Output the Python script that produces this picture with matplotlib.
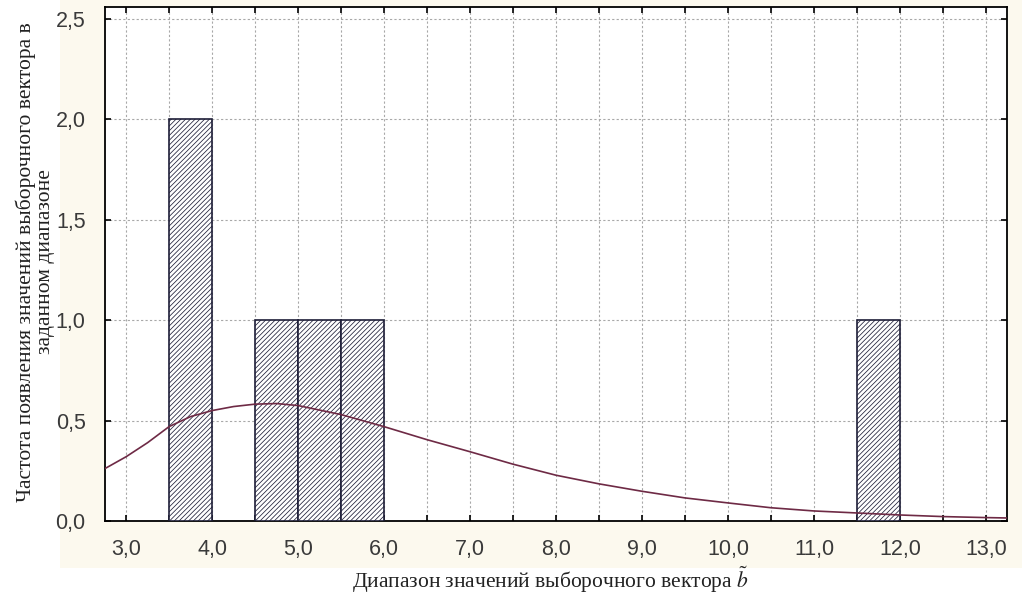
import matplotlib
matplotlib.use("Agg")
import matplotlib.pyplot as plt
import matplotlib.patches as mpatches
from matplotlib.ticker import MultipleLocator, FuncFormatter

# histogram bins (left edge) and counts
bin_left = [3.5, 4.5, 5.0, 5.5, 11.5]
bin_count = [2, 1, 1, 1, 1]
bin_width = 0.5

# fitted curve
curve_x = [2.75, 3.0, 3.25, 3.5, 3.75, 4.0, 4.25, 4.5, 4.75, 5.0, 5.5, 6.0, 6.5,
           7.0, 7.5, 8.0, 8.5, 9.0, 9.5, 10.0, 10.5, 11.0, 11.5, 12.0, 12.5,
           13.0, 13.25]
curve_y = [0.26, 0.32, 0.39, 0.47, 0.52, 0.55, 0.57, 0.582, 0.585, 0.575, 0.53,
           0.47, 0.405, 0.345, 0.283, 0.228, 0.185, 0.148, 0.115, 0.09, 0.066,
           0.05, 0.04, 0.03, 0.022, 0.017, 0.015]

x_label = "Диапазон значений выборочного вектора $\\tilde{b}$"
y_label = "Частота появления значений выборочного вектора в\nзаданном диапазоне"

W, H = 1022, 596
plt.rcParams['mathtext.fontset'] = 'stix'
plt.rcParams['hatch.linewidth'] = 0.55

fig = plt.figure(figsize=(W / 100, H / 100), dpi=100, facecolor='white')

# cream tinted area behind the chart
fig.patches.append(mpatches.Rectangle((60 / W, 1 - 568 / H), 962 / W, 568 / H,
                                      transform=fig.transFigure,
                                      facecolor='#fcf9ee', edgecolor='none', zorder=-5))

ax = fig.add_axes([105 / W, 1 - 521 / H, 902 / W, 514 / H])
ax.set_facecolor('white')

ax.bar(bin_left, bin_count, width=bin_width, align='edge', facecolor='white',
       edgecolor='#1e1e38', linewidth=1.2, hatch='///////', zorder=3)
ax.plot(curve_x, curve_y, color='#6e2a45', linewidth=1.2, zorder=4)

ax.set_xlim(2.755, 13.245)
ax.set_ylim(0, 2.56)

ax.xaxis.set_major_locator(MultipleLocator(0.5))
ax.yaxis.set_major_locator(MultipleLocator(0.5))
ax.xaxis.set_major_formatter(FuncFormatter(
    lambda v, p: (f"{v:.1f}".replace('.', ',') if abs(v - round(v)) < 1e-6 else "")))
ax.yaxis.set_major_formatter(FuncFormatter(lambda v, p: f"{v:.1f}".replace('.', ',')))

ax.grid(True, color='#a8a8a8', linestyle=(0, (2, 2)), linewidth=0.8, zorder=1)
ax.set_axisbelow(True)

ax.tick_params(direction='in', length=4, width=1.2, top=True, right=True,
               labelsize=15.5, colors='black', labelcolor='#3a3a3a')
ax.tick_params(axis='x', pad=13)
ax.tick_params(axis='y', pad=14)
for lab in ax.get_xticklabels() + ax.get_yticklabels():
    lab.set_family('Liberation Sans')

for s in ax.spines.values():
    s.set_linewidth(1.3)
    s.set_color('black')

fig.text(550 / W, 1 - 580 / H, x_label, ha='center', va='center',
         fontsize=15.5, family='Liberation Serif', color='#222222')
fig.text(35 / W, 1 - 262 / H, y_label, ha='center', va='center', rotation=90,
         multialignment='center', fontsize=15.5, family='Liberation Serif',
         color='#222222', linespacing=1.0)

fig.savefig('out.png', dpi=100, facecolor=fig.get_facecolor())
